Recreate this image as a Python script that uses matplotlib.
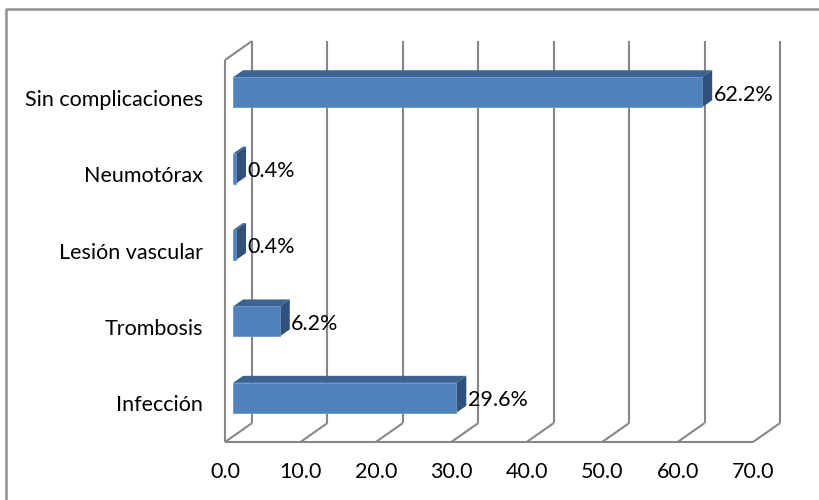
import matplotlib.pyplot as plt
from matplotlib.patches import Polygon
from matplotlib.lines import Line2D

plt.rcParams['font.family'] = ['Lato', 'DejaVu Sans']

# ======================
# data
# ======================
categories = ["Infección", "Trombosis", "Lesión vascular", "Neumotórax", "Sin complicaciones"]
percent = [29.6, 6.2, 0.4, 0.4, 62.2]
ticks = [0, 10, 20, 30, 40, 50, 60, 70]

# ======================
# 3d look settings (in data units)
# ======================
DX, DY = 3.58, 0.248          # depth of the whole plot box
BX, BY = 1.06, 0.078          # where the bar front face sits inside the box
SX, SY = 1.33, 0.092          # bar thickness (depth)
HALF = 0.196                  # half bar height
Y0, Y1 = -0.5, len(categories) - 0.5
FS = 15.5

GRID = "#878787"
FRONT = "#4F81BD"
TOP = "#3C6493"
SIDE = "#30517A"

fig = plt.figure(figsize=(8.19, 5.0), dpi=100)
ax = fig.add_axes([225 / 819, 58 / 500, 528 / 819, 382 / 500])
ax.set_xlim(0, 70)
ax.set_ylim(Y0, Y1)
ax.axis("off")

# outer chart border
fig.add_artist(Line2D([6 / 819, 6 / 819, 1.0], [0.0, 1 - 9 / 500, 1 - 9 / 500],
                      transform=fig.transFigure, color="#8E8E8E", lw=1.8))

# walls: back grid lines, floor diagonals, left wall edges
line_kw = dict(color=GRID, lw=1.5, clip_on=False, solid_capstyle="butt")
for t in ticks:
    ax.plot([t + DX, t + DX], [Y0 + DY, Y1 + DY], **line_kw)
    ax.plot([t, t + DX], [Y0, Y0 + DY], **line_kw)
ax.plot([0, 70], [Y0, Y0], **line_kw)
ax.plot([0, 0], [Y0, Y1], **line_kw)
ax.plot([0, DX], [Y1, Y1 + DY], **line_kw)

# tick labels along the front floor edge
for t in ticks:
    ax.text(t, Y0 - 0.39, f"{t:.1f}", ha="center", va="center", fontsize=FS)

# category labels
for i, name in enumerate(categories):
    ax.text(-2.9, i - 0.02, name, ha="right", va="center", fontsize=FS)

# 3d bars
for i, v in enumerate(percent):
    x0, x1 = BX, BX + v
    y0, y1 = i + BY - HALF, i + BY + HALF
    front = [(x0, y0), (x1, y0), (x1, y1), (x0, y1)]
    top = [(x0, y1), (x1, y1), (x1 + SX, y1 + SY), (x0 + SX, y1 + SY)]
    side = [(x1, y0), (x1 + SX, y0 + SY), (x1 + SX, y1 + SY), (x1, y1)]
    ax.add_patch(Polygon(top, closed=True, fc=TOP, ec="none", clip_on=False, zorder=3))
    ax.add_patch(Polygon(side, closed=True, fc=SIDE, ec="none", clip_on=False, zorder=3))
    ax.add_patch(Polygon(front, closed=True, fc=FRONT, ec="#6A93C6", lw=0.6, clip_on=False, zorder=4))
    ax.text(x1 + SX + 0.2, i + BY - 0.03, f"{v}%", ha="left", va="center", fontsize=FS, zorder=5)

fig.savefig("out.png", dpi=100)
